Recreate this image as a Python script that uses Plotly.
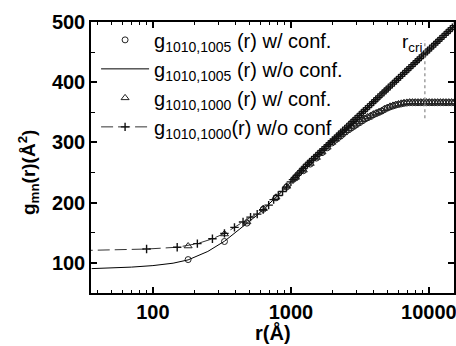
import math
import plotly.graph_objects as go

# ---- data ----
# g_1010,1005(r) without confinement (solid line)
r_line = [36, 50, 70, 100, 140, 180, 250, 330, 400, 480, 560, 640, 766, 900, 1000,
          1150, 1300, 1600, 2000, 2500, 3000, 4000, 5000, 6500, 8000, 9350, 11000,
          13000, 15200]
g1005_noconf = [90.5, 91.5, 93, 95.5, 99.5, 105, 119, 136, 151, 166, 178, 190, 207,
                223, 235, 249, 262, 283, 303, 323, 341, 368, 389, 413, 433, 447, 463,
                479, 493]

# with confinement (circles / triangles)
r_conf = [180, 330, 480, 630, 780, 930, 1080, 1230, 1380, 1530, 1680, 1830, 1980,
          2100, 2200, 2300, 2400, 2500, 2620, 2740, 2870, 3000, 3150,
          3300, 3450, 3600, 3780, 3960, 4150, 4350, 4550, 4770, 5000,
          5240, 5490, 5750, 6020, 6300, 6600, 6920, 7250, 7600, 7960,
          8340, 8740, 9160, 9600, 10060, 10540, 11040, 11570, 12120, 12700,
          13300, 13940, 14600, 15300]
g1005_conf = [105.5, 135.5, 166, 189, 208, 226, 241, 253, 264, 274, 283, 291, 299,
              304, 308, 311, 315, 318, 321, 324, 327, 330, 333,
              336, 339, 341, 343, 346, 348, 350, 352, 355, 357,
              359, 360.5, 362, 363, 364, 365, 365.5, 366, 366, 366,
              366, 366, 366, 366, 366, 366, 366, 366, 366, 366,
              366, 366, 366, 366]
g1000_conf = [128, 148, 168, 190, 209, 227, 242, 254, 265, 275, 284, 292, 300,
              305, 309, 312.5, 316, 319.5, 322.5, 325.5, 328.5, 331.5, 334.5,
              337.5, 340, 342.5, 344.5, 347, 349, 351, 353, 356, 358,
              360, 361.5, 363, 364, 365, 366, 366.5, 367, 367, 367,
              367, 367, 367, 367, 367, 367, 367, 367, 367, 367,
              367, 367, 367, 367]

# g_1010,1000(r) without confinement (dashed line with + markers)
r_cross = [30, 90, 150, 210, 270, 330, 390, 450, 510, 570,
           630, 690, 750, 810, 870, 930,
           1000, 1035, 1072, 1109, 1148, 1189, 1230, 1274, 1318, 1365,
           1413, 1462, 1514, 1567, 1622, 1679, 1738, 1799, 1862, 1928,
           1995, 2065, 2138, 2213, 2291, 2371, 2455, 2541, 2630, 2723,
           2818, 2917, 3020, 3126, 3236, 3350, 3467, 3589, 3715, 3846,
           3981, 4121, 4266, 4416, 4571, 4732, 4898, 5070, 5248, 5433,
           5623, 5821, 6026, 6237, 6457, 6683, 6918, 7161, 7413, 7674,
           7943, 8222, 8511, 8810, 9120, 9441, 9772, 10116, 10471, 10839,
           11220, 11614, 12023, 12445, 12882, 13335, 13804, 14289, 14791, 15311]
g1000_noconf = [120.5, 123, 126, 132, 140, 149, 159, 168, 176, 181,
                188.5, 196, 205, 212, 218.5, 226,
                234.5, 238.2, 241.9, 245.6, 249.3, 253.0, 256.7, 260.3, 263.9, 267.1,
                270.4, 273.6, 276.9, 280.1, 283.4, 286.6, 289.8, 293.1, 296.3, 299.6,
                302.8, 306.0, 309.3, 312.5, 315.8, 319.0, 322.2, 325.5, 328.7, 332.0,
                335.2, 338.4, 341.7, 344.9, 348.2, 351.4, 354.6, 357.9, 361.1, 364.4,
                367.6, 370.8, 374.1, 377.3, 380.6, 383.8, 387.0, 390.3, 393.5, 396.8,
                400.0, 403.2, 406.5, 409.7, 413.0, 416.2, 419.4, 422.7, 425.9, 429.2,
                432.4, 435.6, 438.9, 442.1, 445.4, 448.6, 451.8, 455.1, 458.3, 461.6,
                464.8, 468.0, 471.3, 474.5, 477.8, 481.0, 484.2, 487.5, 490.7, 494.0]

# critical radius marker
r_cri = 9350
rcri_g = [340, 470]

x_ticks = [100, 1000, 10000]
x_ticktext = ["100", "1000", "10000"]
y_ticks = [100, 200, 300, 400, 500]

names = ["g<sub>1010,1005</sub> (r) w/ conf.",
         "g<sub>1010,1005</sub> (r) w/o conf.",
         "g<sub>1010,1000</sub> (r) w/ conf.",
         "g<sub>1010,1000</sub>(r) w/o conf"]

FONT = "Liberation Sans, Arial, Helvetica, sans-serif"

fig = go.Figure()
fig.add_trace(go.Scatter(x=r_conf, y=g1005_conf, mode="markers", name=names[0],
                         marker=dict(symbol="circle-open", size=6, color="#222",
                                     line=dict(width=1, color="#222"))))
fig.add_trace(go.Scatter(x=r_line, y=g1005_noconf, mode="lines", name=names[1],
                         line=dict(color="black", width=1)))
fig.add_trace(go.Scatter(x=r_conf, y=g1000_conf, mode="markers", name=names[2],
                         marker=dict(symbol="triangle-up-open", size=7, color="#222",
                                     line=dict(width=1, color="#222"))))
fig.add_trace(go.Scatter(x=r_cross, y=g1000_noconf, mode="lines+markers", name=names[3],
                         line=dict(color="#333", width=1, dash="12px,5px"),
                         marker=dict(symbol="cross-thin", size=6, color="#111",
                                     line=dict(width=1.4, color="#111"))))
fig.add_trace(go.Scatter(x=[r_cri, r_cri], y=rcri_g, mode="lines", showlegend=False,
                         line=dict(color="#888", width=1.2, dash="dot")))

minor_x = [d * 10 ** e for e in (1, 2, 3, 4) for d in range(2, 10)]

fig.update_xaxes(type="log", range=[math.log10(35.6), math.log10(15200)],
                 automargin=False, ticklabeloverflow="allow",
                 tickmode="array", tickvals=x_ticks, ticktext=x_ticktext,
                 ticks="inside", ticklen=6, tickwidth=1.5, tickcolor="black",
                 showline=True, linecolor="black", linewidth=1.5, mirror="allticks",
                 showgrid=False, zeroline=False,
                 tickfont=dict(family=FONT, size=20, color="black", weight="bold"),
                 minor=dict(tickmode="array", tickvals=minor_x, ticks="inside",
                            ticklen=3, tickwidth=1, tickcolor="black", showgrid=False))
fig.update_yaxes(range=[50, 500], tickmode="array", tickvals=y_ticks,
                 automargin=False, ticklabeloverflow="allow",
                 ticks="inside", ticklen=6, tickwidth=1.5, tickcolor="black",
                 showline=True, linecolor="black", linewidth=1.5, mirror="allticks",
                 showgrid=False, zeroline=False,
                 tickfont=dict(family=FONT, size=20, color="black", weight="bold"),
                 minor=dict(dtick=50, tick0=50, ticks="inside", ticklen=4, tickwidth=1,
                            tickcolor="black", showgrid=False))

fig.add_annotation(text="g<sub>mn</sub>(r)(Å<sup>2</sup>)", xref="paper", yref="paper",
                   x=-0.1708, y=0.4465, textangle=-90, showarrow=False,
                   xanchor="center", yanchor="middle",
                   font=dict(family=FONT, size=19, color="black", weight="bold"))
fig.add_annotation(text="r(Å)", xref="paper", yref="paper", x=0.5, y=-0.1476,
                   showarrow=False, xanchor="center", yanchor="middle",
                   font=dict(family=FONT, size=20, color="black", weight="bold"))
fig.add_annotation(text="r<sub>cri</sub>", xref="x", yref="y", x=math.log10(r_cri), y=465,
                   showarrow=False, xanchor="right", yanchor="middle", xshift=-1,
                   font=dict(family=FONT, size=19, color="black"))

fig.update_layout(width=456, height=346,
                  margin=dict(l=91, r=2, t=22, b=53, autoexpand=False),
                  paper_bgcolor="white", plot_bgcolor="white",
                  font=dict(family=FONT, color="black"),
                  legend=dict(x=0.014, y=1.006, xanchor="left", yanchor="top",
                              bgcolor="rgba(0,0,0,0)", itemwidth=48,
                              font=dict(family=FONT, size=20, color="black"),
                              tracegroupgap=0))

fig.write_html("out.html", config={"displayModeBar": False},
               post_script="document.body.style.margin='0';document.body.style.overflow='hidden';")
